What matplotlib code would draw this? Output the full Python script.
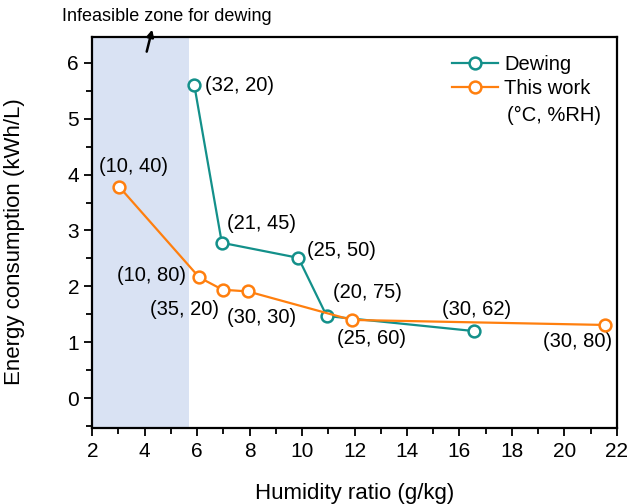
import numpy as np
import matplotlib.pyplot as plt
from matplotlib.ticker import MultipleLocator

plt.rcParams['font.family'] = ['Liberation Sans', 'DejaVu Sans']

# dewing reference points
dew_x = [5.89, 6.94, 9.86, 10.94, 16.57]
dew_y = [5.60, 2.78, 2.51, 1.47, 1.20]
dew_lab = ['(32, 20)', '(21, 45)', '(25, 50)', '(20, 75)', '(30, 62)']

# this work
tw_x = [3.03, 6.08, 6.97, 7.93, 11.89, 21.55]
tw_y = [3.78, 2.16, 1.94, 1.91, 1.40, 1.31]
tw_lab = ['(10, 40)', '(10, 80)', '(35, 20)', '(30, 30)', '(25, 60)', '(30, 80)']

teal = '#13908a'
orange = '#ff7f0e'

fig = plt.figure(figsize=(6.29, 5.04), dpi=100)
ax = fig.add_axes([0.1467, 0.150, 0.8338, 0.7766])

ax.axvspan(2, 5.67, color='#d9e2f3', lw=0, zorder=0)

ax.plot(dew_x, dew_y, '-o', color=teal, lw=1.6, ms=8.5, mfc='white',
        mew=1.8, label='Dewing', zorder=3)
ax.plot(tw_x, tw_y, '-o', color=orange, lw=1.6, ms=8.5, mfc='white',
        mew=1.8, label='This work', zorder=4)

# label offsets in points (dx, dy, ha)
dew_off = [(7.7, 0, 'left'), (28.8, 13.9, 'center'), (6, 5.5, 'left'),
           (29.6, 17.1, 'center'), (1.7, 15.6, 'center')]
tw_off = [(10.2, 14.6, 'center'), (-34.3, 1.7, 'center'), (-27.7, -14.2, 'center'),
          (10.1, -18.9, 'center'), (14.4, -13.7, 'center'), (-19.4, -12, 'center')]

for x, y, s, (dx, dy, ha) in zip(dew_x, dew_y, dew_lab, dew_off):
    ax.annotate(s, (x, y), xytext=(dx, dy), textcoords='offset points',
                ha=ha, va='center', fontsize=14.5)
for x, y, s, (dx, dy, ha) in zip(tw_x, tw_y, tw_lab, tw_off):
    ax.annotate(s, (x, y), xytext=(dx, dy), textcoords='offset points',
                ha=ha, va='center', fontsize=14.5)

# zone note above the axes
ax.annotate('', xy=(4.31, 6.64), xytext=(4.05, 6.15),
            arrowprops=dict(arrowstyle='-|>', color='black', lw=1.8,
                            mutation_scale=10), annotation_clip=False)
ax.text(4.85, 6.82, 'Infeasible zone for dewing', ha='center', va='center',
        fontsize=13)

ax.set_xlim(2, 22)
ax.set_ylim(-0.54, 6.46)
ax.xaxis.set_major_locator(MultipleLocator(2))
ax.xaxis.set_minor_locator(MultipleLocator(1))
ax.yaxis.set_major_locator(MultipleLocator(1))
ax.yaxis.set_minor_locator(MultipleLocator(0.5))
ax.set_yticks(np.arange(0, 7, 1))
ax.tick_params(which='both', direction='out', labelsize=15, width=1.3,
               top=False, right=False)
ax.tick_params(which='major', length=6)
ax.tick_params(which='minor', length=4)
for sp in ax.spines.values():
    sp.set_linewidth(1.6)

ax.set_xlabel('Humidity ratio (g/kg)', fontsize=16, labelpad=16)
ax.set_ylabel('Energy consumption (kWh/L)', fontsize=16)
ax.yaxis.set_label_coords(-0.128, 0.476)

ax.legend(loc='upper right', bbox_to_anchor=(0.985, 1.0), frameon=False,
          fontsize=14.5, handlelength=2.3, handletextpad=0.3, labelspacing=0.25)
ax.text(0.88, 0.80, '(°C, %RH)', transform=ax.transAxes, ha='center',
        va='center', fontsize=14.5)

fig.savefig('out.png', dpi=100)
